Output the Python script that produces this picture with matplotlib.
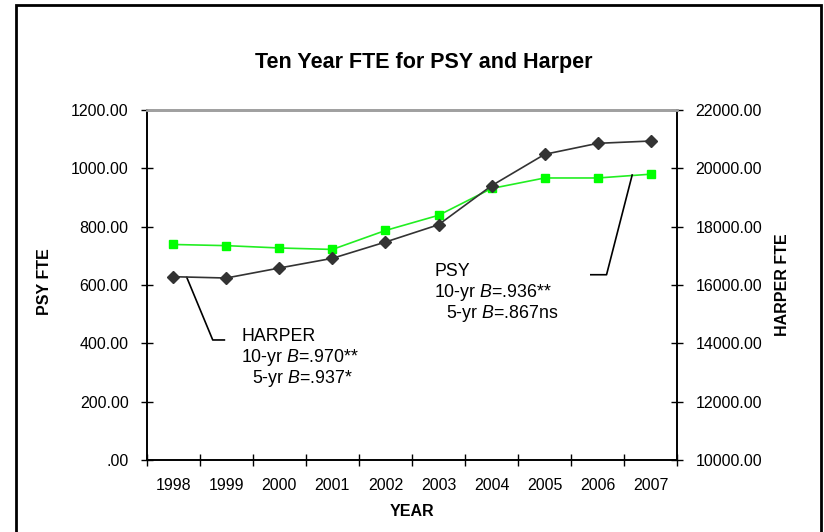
"""
Ten Year FTE for PSY and Harper.
Dual-axis line chart with two annotated regression notes.
"""

import numpy as np
import matplotlib.pyplot as plt
from matplotlib.patches import Rectangle

years = ["1998", "1999", "2000", "2001", "2002",
         "2003", "2004", "2005", "2006", "2007"]
psy_fte = [739, 735, 727, 722, 787, 839, 931, 967, 967, 980]
harper_fte = [16285, 16240, 16583, 16915, 17474,
              18067, 19405, 20481, 20858, 20937]

psy_ticks = [0, 200, 400, 600, 800, 1000, 1200]
psy_tick_labels = [".00", "200.00", "400.00", "600.00",
                   "800.00", "1000.00", "1200.00"]
harper_ticks = [10000, 12000, 14000, 16000, 18000, 20000, 22000]
harper_tick_labels = ["%d.00" % t for t in harper_ticks]

plt.rcParams["font.family"] = ["Liberation Sans", "DejaVu Sans"]
plt.rcParams["mathtext.fontset"] = "custom"
plt.rcParams["mathtext.it"] = "Liberation Sans:italic"
plt.rcParams["mathtext.rm"] = "Liberation Sans"

TICK_FS = 11.5
NOTE_FS = 12.8


def main():
    fig = plt.figure(figsize=(8.24, 5.32), dpi=100)
    ax = fig.add_axes([0.178, 0.1353, 0.644, 0.6579])
    ax2 = ax.twinx()

    x = np.arange(len(years))

    # PSY on the left axis, Harper on the right
    ax.plot(x, psy_fte, color="#22ee22", lw=1.2, marker="s", ms=6,
            mfc="#00ff00", mec="#00ff00", zorder=3)
    ax2.plot(x, harper_fte, color="#333333", lw=1.2, marker="D", ms=5.8,
             mfc="#333333", mec="#333333", zorder=3)

    ax.set_xlim(-0.5, len(years) - 0.5)
    ax.set_ylim(0, 1200)
    ax2.set_ylim(10000, 22000)

    ax.set_yticks(psy_ticks)
    ax.set_yticklabels(psy_tick_labels)
    ax2.set_yticks(harper_ticks)
    ax2.set_yticklabels(harper_tick_labels)

    # tick marks between categories, labels at the centres
    ax.set_xticks(np.arange(-0.5, len(years), 1.0))
    ax.set_xticklabels([])
    ax.set_xticks(x, minor=True)
    ax.set_xticklabels(years, minor=True)
    ax.tick_params(axis="x", which="major", direction="inout", length=9,
                   width=1, color="black")
    ax.tick_params(axis="x", which="minor", length=0, pad=13,
                   labelsize=TICK_FS)
    ax.tick_params(axis="y", direction="inout", length=8, width=1,
                   pad=9, labelsize=TICK_FS)
    ax2.tick_params(axis="y", direction="inout", length=8, width=1,
                    pad=9, labelsize=TICK_FS)

    for a in (ax, ax2):
        for side in ("left", "right", "bottom"):
            a.spines[side].set_color("black")
            a.spines[side].set_linewidth(1.2)
        a.spines["top"].set_color("#a0a0a0")
        a.spines["top"].set_linewidth(2)

    # leader lines and notes
    ax.plot([0.0755, 0.1245, 0.1464], [0.522, 0.343, 0.343],
            color="black", lw=1.2, transform=ax.transAxes, zorder=4)
    ax.plot([0.837, 0.8666, 0.9149], [0.5294, 0.5294, 0.8143],
            color="black", lw=1.2, transform=ax.transAxes, zorder=4)

    notes = [
        (0.1778, 0.352, "HARPER"),
        (0.1778, 0.292, r"10-yr $\it{B}$=.970**"),
        (0.1993, 0.232, r"5-yr $\it{B}$=.937*"),
        (0.5422, 0.538, "PSY"),
        (0.5422, 0.478, r"10-yr $\it{B}$=.936**"),
        (0.5634, 0.419, r"5-yr $\it{B}$=.867ns"),
    ]
    for nx, ny, txt in notes:
        ax.text(nx, ny, txt, transform=ax.transAxes, fontsize=NOTE_FS,
                ha="left", va="center")

    fig.text(0.514, 0.8816, "Ten Year FTE for PSY and Harper",
             fontsize=15.5, fontweight="bold", ha="center", va="center")
    fig.text(0.0546, 0.47, "PSY FTE", rotation=90, fontsize=11.5,
             fontweight="bold", ha="center", va="center")
    fig.text(0.950, 0.464, "HARPER FTE", rotation=90, fontsize=11.5,
             fontweight="bold", ha="center", va="center")
    fig.text(0.5, 0.038, "YEAR", fontsize=11.5, fontweight="bold",
             ha="center", va="center")

    # outer chart frame
    fig.patches.append(Rectangle((16 / 824, -0.05), 805 / 824, 1.04,
                                 transform=fig.transFigure, fill=False,
                                 edgecolor="black", lw=2))

    fig.savefig("out.png", dpi=100)


if __name__ == "__main__":
    main()
